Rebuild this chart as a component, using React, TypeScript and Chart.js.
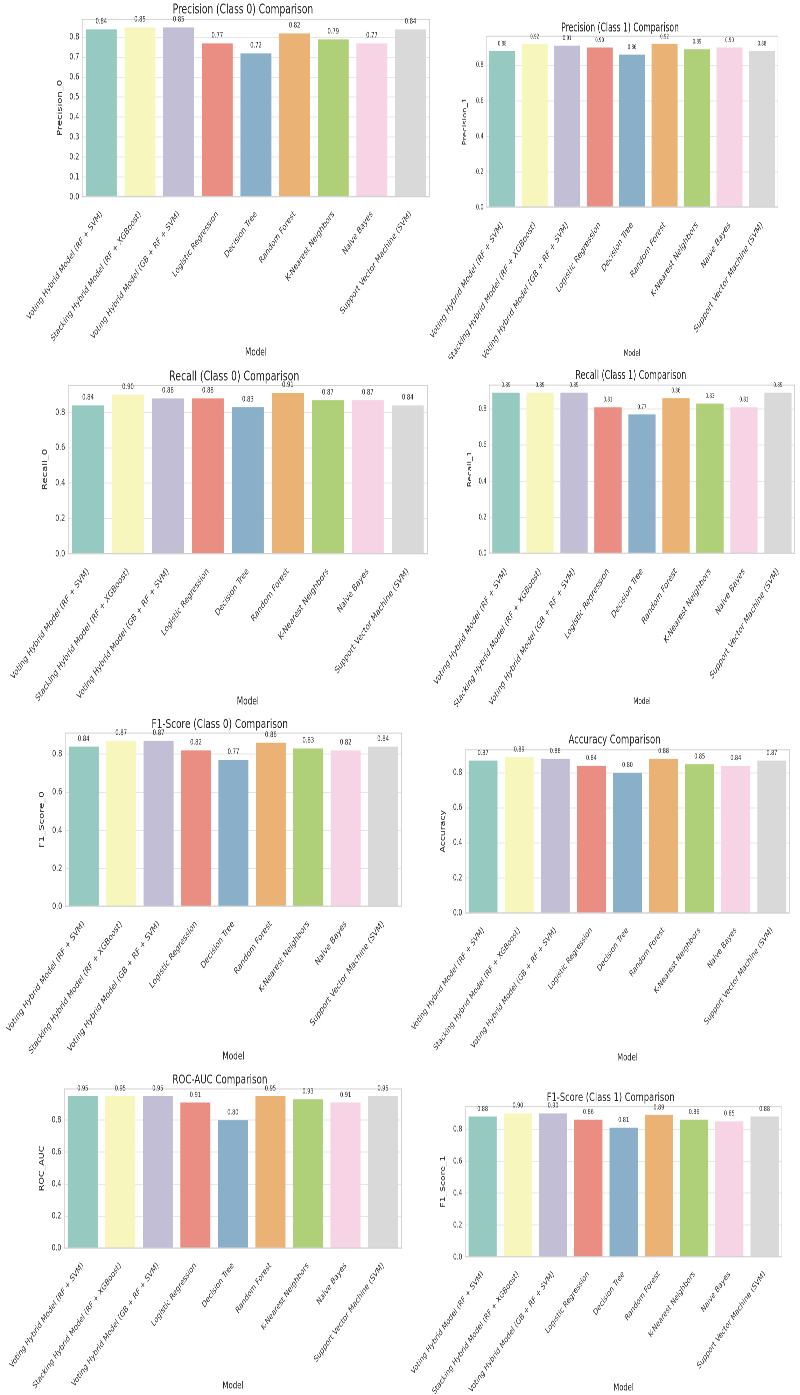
import React, { useEffect, useRef } from "react";
import { Chart, registerables } from "chart.js";

Chart.register(...registerables);

// ---------------- data ----------------
const models = [
  "Voting Hybrid Model (RF + SVM)",
  "Stacking Hybrid Model (RF + XGBoost)",
  "Voting Hybrid Model (GB + RF + SVM)",
  "Logistic Regression",
  "Decision Tree",
  "Random Forest",
  "K-Nearest Neighbors",
  "Naive Bayes",
  "Support Vector Machine (SVM)",
];

const precision0 = [0.84, 0.85, 0.85, 0.77, 0.72, 0.82, 0.79, 0.77, 0.84];
const precision1 = [0.88, 0.92, 0.91, 0.9, 0.86, 0.92, 0.89, 0.9, 0.88];
const recall0 = [0.84, 0.9, 0.88, 0.88, 0.83, 0.91, 0.87, 0.87, 0.84];
const recall1 = [0.89, 0.89, 0.89, 0.81, 0.77, 0.86, 0.83, 0.81, 0.89];
const f1Score0 = [0.84, 0.87, 0.87, 0.82, 0.77, 0.86, 0.83, 0.82, 0.84];
const accuracy = [0.87, 0.89, 0.88, 0.84, 0.8, 0.88, 0.85, 0.84, 0.87];
const rocAuc = [0.95, 0.95, 0.95, 0.91, 0.8, 0.95, 0.93, 0.91, 0.95];
const f1Score1 = [0.88, 0.9, 0.9, 0.86, 0.81, 0.89, 0.86, 0.85, 0.88];

// ---------------- style ----------------
const barColors = [
  "#96cac1",
  "#f6f6bd",
  "#c1bed6",
  "#ea8e83",
  "#8aafc9",
  "#eab375",
  "#afcf78",
  "#f6d3e5",
  "#d9d9d9",
];

const FONT = "'DejaVu Sans', sans-serif";

type Panel = {
  title: string;
  yLabel: string;
  values: number[];
  step: number;
  left: number; // canvas left edge on the page
  L: number;
  T: number;
  R: number;
  B: number;
  TY: number;
  YX: number;
  MY: number;
  fs: number; // scale for y ticks, y title, value labels, x title
  sx: number; // horizontal squeeze
  titleSize: number;
  xTickSize: number;
};

const panels: Panel[] = [
  { title: "Precision (Class 0) Comparison", yLabel: "Precision_0", values: precision0, step: 0.1, left: 0, L: 82, T: 19, R: 430, B: 197, TY: 10, YX: 60, MY: 353, fs: 1.0, sx: 0.69, titleSize: 13.2, xTickSize: 9.3 },
  { title: "Precision (Class 1) Comparison", yLabel: "Precision_1", values: precision1, step: 0.2, left: 400, L: 486, T: 34, R: 778, B: 207, TY: 28, YX: 465, MY: 353, fs: 0.85, sx: 0.62, titleSize: 12.3, xTickSize: 10 },
  { title: "Recall (Class 0) Comparison", yLabel: "Recall_0", values: recall0, step: 0.2, left: 0, L: 68, T: 385, R: 428, B: 554, TY: 377, YX: 45, MY: 702, fs: 1.0, sx: 0.7, titleSize: 13.3, xTickSize: 9.5 },
  { title: "Recall (Class 1) Comparison", yLabel: "Recall_1", values: recall1, step: 0.2, left: 400, L: 489, T: 385, R: 795, B: 554, TY: 376, YX: 470, MY: 702, fs: 0.88, sx: 0.62, titleSize: 12.8, xTickSize: 10 },
  { title: "F1-Score (Class 0) Comparison", yLabel: "F1_Score_0", values: f1Score0, step: 0.2, left: 0, L: 65, T: 733, R: 402, B: 907, TY: 725, YX: 42, MY: 1057, fs: 1.0, sx: 0.7, titleSize: 12.7, xTickSize: 9.5 },
  { title: "Accuracy Comparison", yLabel: "Accuracy", values: accuracy, step: 0.2, left: 400, L: 465, T: 749, R: 790, B: 913, TY: 740, YX: 443, MY: 1058, fs: 0.93, sx: 0.7, titleSize: 12.1, xTickSize: 8.8 },
  { title: "ROC-AUC Comparison", yLabel: "ROC_AUC", values: rocAuc, step: 0.2, left: 0, L: 64, T: 1088, R: 402, B: 1248, TY: 1080, YX: 42, MY: 1386, fs: 0.95, sx: 0.7, titleSize: 12.4, xTickSize: 9.0 },
  { title: "F1-Score (Class 1) Comparison", yLabel: "F1_Score_1", values: f1Score1, step: 0.2, left: 400, L: 465, T: 1106, R: 782, B: 1257, TY: 1098, YX: 443, MY: 1388, fs: 0.92, sx: 0.7, titleSize: 11.9, xTickSize: 8.8 },
];

const framePlugin = {
  id: "frame",
  afterDatasetsDraw(chart: any) {
    const { ctx, chartArea } = chart;
    ctx.save();
    ctx.strokeStyle = "#d2d2d2";
    ctx.lineWidth = 1;
    ctx.strokeRect(
      chartArea.left + 0.5,
      chartArea.top + 0.5,
      chartArea.right - chartArea.left - 1,
      chartArea.bottom - chartArea.top - 1
    );
    ctx.restore();
  },
};

const valueLabelPlugin = {
  id: "valueLabels",
  afterDatasetsDraw(chart: any, _args: any, opts: any) {
    const { ctx } = chart;
    const meta = chart.getDatasetMeta(0);
    const data = chart.data.datasets[0].data as number[];
    ctx.save();
    ctx.font = `${opts.size || 7.5}px ${FONT}`;
    ctx.fillStyle = "#303030";
    ctx.textAlign = "center";
    ctx.textBaseline = "bottom";
    meta.data.forEach((bar: any, i: number) => {
      ctx.fillText(Number(data[i]).toFixed(2), bar.x, bar.y - 4);
    });
    ctx.restore();
  },
};

function BarPanel({ p }: { p: Panel }) {
  const ref = useRef<HTMLCanvasElement | null>(null);
  const SX = p.sx;

  const titleSize = p.titleSize;
  const lhT = titleSize * 1.2;
  const ySize = 10 * p.fs;
  const lhY = ySize * 1.2;
  const xSize = 10.5 * p.fs;
  const lhX = xSize * 1.2;

  const CT = p.TY - lhT / 2;
  const CL = p.YX - (SX * lhY) / 2; // left edge of y-axis box on page
  const padLeft = (CL - p.left) / SX;
  const W = Math.round((p.R - p.left) / SX + 2);
  const CH = Math.round(p.MY + lhX / 2 - CT);
  const yW = (p.L - CL) / SX;
  const xH = CT + CH - p.B;
  const titlePadB = Math.max(0, p.T - CT - lhT);
  const yMax = Math.max(...p.values) * 1.05;

  useEffect(() => {
    if (!ref.current) return;
    const chart = new Chart(ref.current, {
      type: "bar",
      data: {
        labels: models,
        datasets: [
          {
            data: p.values,
            backgroundColor: barColors,
            borderWidth: 0,
            categoryPercentage: 0.8,
            barPercentage: 1.0,
          },
        ],
      },
      options: {
        animation: false,
        responsive: false,
        devicePixelRatio: 2,
        layout: { padding: { left: padLeft, right: 2, top: 0, bottom: 0 } },
        plugins: {
          legend: { display: false },
          tooltip: { enabled: false },
          title: {
            display: true,
            text: p.title,
            color: "#262626",
            font: { family: FONT, size: titleSize, weight: "normal" as any },
            padding: { top: 0, bottom: titlePadB },
          },
          valueLabels: { size: 7.5 * p.fs },
        } as any,
        scales: {
          x: {
            offset: true,
            grid: { display: false },
            border: { display: false },
            ticks: {
              autoSkip: false,
              minRotation: 45,
              maxRotation: 45,
              padding: 4,
              color: "#333333",
              font: { family: FONT, size: p.xTickSize },
            },
            title: {
              display: true,
              text: "Model",
              color: "#262626",
              padding: 0,
              font: { family: FONT, size: xSize },
            },
            afterFit: (s: any) => {
              s.height = xH;
              s.paddingLeft = 0;
              s.paddingRight = 0;
            },
          },
          y: {
            min: 0,
            max: yMax,
            grid: { color: "#e6e6e6", drawTicks: false, lineWidth: 1 },
            border: { display: false },
            ticks: {
              stepSize: p.step,
              includeBounds: false,
              padding: 4,
              color: "#333333",
              font: { family: FONT, size: 9 * p.fs },
              callback: (v: any) => Number(v).toFixed(1),
            },
            title: {
              display: true,
              text: p.yLabel,
              color: "#262626",
              padding: 0,
              font: { family: FONT, size: ySize },
            },
            afterFit: (s: any) => {
              s.width = yW;
              s.paddingTop = 0;
              s.paddingBottom = 0;
            },
          },
        },
      },
      plugins: [framePlugin, valueLabelPlugin],
    } as any);
    return () => chart.destroy();
  }, []);

  return (
    <canvas
      ref={ref}
      width={W}
      height={CH}
      style={{
        position: "absolute",
        left: p.left,
        top: CT,
        width: W,
        height: CH,
        transform: `scaleX(${SX})`,
        transformOrigin: "0 0",
      }}
    />
  );
}

export default function App() {
  return (
    <div
      style={{
        position: "absolute",
        left: 0,
        top: 0,
        width: 800,
        height: 1395,
        background: "#ffffff",
        overflow: "hidden",
      }}
    >
      {panels.map((p, i) => (
        <BarPanel key={i} p={p} />
      ))}
    </div>
  );
}
